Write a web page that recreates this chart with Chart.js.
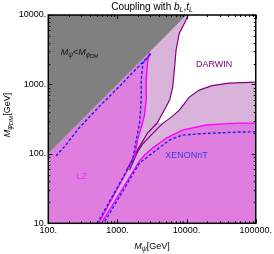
<!DOCTYPE html>
<html><head><meta charset="utf-8">
<script src="https://cdn.jsdelivr.net/npm/chart.js@4.4.1/dist/chart.umd.min.js"></script>
<style>html,body{margin:0;padding:0;background:#fff;}canvas{display:block;}</style>
</head><body>
<canvas id="c" width="274" height="254"></canvas>
<script>
// ---- tick values / labels ----
const xTicks = [100, 1000, 10000, 100000];
const xTickLabels = ['100.', '1000.', '10000.', '100000.'];
const yTicks = [10, 100, 1000, 10000];
const yTickLabels = ['10.', '100.', '1000.', '10000.'];

// ---- regions ([M_psi, M_phiDM] in GeV) ----
const lzRegion = [[100,10],[100000,10],[100000,10000],[10000,10000],[100,100]];
const kinematicRegion = [[100,100],[10000,10000],[100,10000]];

// ---- LZ boundary (two branches) ----
const lzLeft = [[2900,2900],[2720,2025],[2605,1153],[2605,594],[2462,362],[2305,278],[1953,158],[1768,90],[536,10]];
const lzRight = [[100000,277],[57300,277],[29500,268],[19200,260],[8670,220],[5105,169],[3210,121],[2462,96],[2086,79],[583,10]];

// ---- DARWIN reach (two branches) ----
const darwinUpper = [[10580,10000],[9800,8420],[7850,5470],[7040,3120],[6650,1610],[6300,915],[5700,600],[5053,476],[3751,278],[2720,199],[2018,121],[1356,58.5]];
const darwinLower = [[100000,1079],[41200,1044],[23400,961],[15200,828],[10940,657],[7852,427],[6025,338],[4516,275],[3242,197],[2305,138],[1920,103],[1498,58.5]];
const darwinTipUpper = 8;
const darwinTipLower = 7;

// ---- XENONnT boundary (two branches) ----
const xenonLeft = [[129,93],[174,129.5],[286,243],[554,487],[1076,945],[1768,1579],[3054,2774],[2328,2005],[2208,1153],[2208,594],[2086,278],[1871,158],[1655,81],[510,10]];
const xenonRight = [[100000,208],[57300,206],[19000,197],[8670,186],[5640,158],[3630,113],[2605,87],[2086,74],[633,10]];

// ---- text labels (data coordinates) ----
const labelDarwin = [25030, 1959];
const labelXenon = [9970, 96];
const labelLZ = [305, 49];
const labelKin = [151, 2640];

const FAM = "'Liberation Sans', Arial, sans-serif";
const pts = a => a.map(p => ({x: p[0], y: p[1]}));

const lightRegion = [...lzLeft, ...lzRight.slice().reverse(), [100000,10000], [10000,10000]];
const whiteRegion = [...darwinUpper.slice(0, darwinTipUpper + 1), ...darwinLower.slice(0, darwinTipLower + 1).reverse(), [100000,10000]];

function poly(data, color, order) {
  return {data: pts(data), showLine: true, fill: 'shape', backgroundColor: color,
          borderColor: 'rgba(0,0,0,0)', borderWidth: 0, pointRadius: 0, tension: 0, order};
}
function line(data, color, w, dash, order) {
  return {data: pts(data), showLine: true, fill: false, borderColor: color, borderWidth: w,
          borderDash: dash || [], pointRadius: 0, tension: 0, order};
}

function drawRich(ctx, parts, x, y, align) {
  let w = 0;
  for (const p of parts) { ctx.font = (p.i ? 'italic ' : '') + p.s + 'px ' + FAM; p.w = ctx.measureText(p.t).width; w += p.w; }
  let cx = align === 'center' ? x - w / 2 : x;
  ctx.textAlign = 'left';
  ctx.textBaseline = 'alphabetic';
  for (const p of parts) { ctx.font = (p.i ? 'italic ' : '') + p.s + 'px ' + FAM; ctx.fillText(p.t, cx, y + (p.dy || 0)); cx += p.w; }
}

const decorPlugin = {
  id: 'decor',
  afterDatasetsDraw(chart) {
    const {ctx, chartArea: a, scales: {x, y}} = chart;
    ctx.save();
    // in-plot labels
    ctx.fillStyle = '#800080';
    drawRich(ctx, [{t: 'DARWIN', s: 9}], x.getPixelForValue(labelDarwin[0]), y.getPixelForValue(labelDarwin[1]) + 3.2, 'center');
    ctx.fillStyle = '#3a3ae8';
    drawRich(ctx, [{t: 'XENONnT', s: 9}], x.getPixelForValue(labelXenon[0]), y.getPixelForValue(labelXenon[1]) + 3.2, 'center');
    ctx.fillStyle = '#ff22ff';
    drawRich(ctx, [{t: 'LZ', s: 9}], x.getPixelForValue(labelLZ[0]), y.getPixelForValue(labelLZ[1]) + 3.2, 'center');
    ctx.fillStyle = '#111';
    drawRich(ctx, [{t: 'M', s: 9, i: 1}, {t: 'ψ', s: 6.5, i: 1, dy: 2}, {t: '<', s: 9}, {t: 'M', s: 9, i: 1},
                   {t: 'φ', s: 6.5, i: 1, dy: 2}, {t: 'DM', s: 5.5, dy: 3}],
             x.getPixelForValue(labelKin[0]), y.getPixelForValue(labelKin[1]), 'left');
    // ticks (inward, all sides)
    ctx.strokeStyle = '#000';
    ctx.lineWidth = 1;
    ctx.beginPath();
    for (let d = 100; d <= 100000; d *= 10) {
      for (let m = 1; m <= 9; m++) {
        const v = d * m; if (v > 100000) break;
        const px = Math.round(x.getPixelForValue(v)) + 0.5;
        const L = m === 1 ? 4 : 2;
        ctx.moveTo(px, a.bottom); ctx.lineTo(px, a.bottom - L);
        ctx.moveTo(px, a.top); ctx.lineTo(px, a.top + L);
      }
    }
    for (let d = 10; d <= 10000; d *= 10) {
      for (let m = 1; m <= 9; m++) {
        const v = d * m; if (v > 10000) break;
        const py = Math.round(y.getPixelForValue(v)) + 0.5;
        const L = m === 1 ? 4 : 2;
        ctx.moveTo(a.left, py); ctx.lineTo(a.left + L, py);
        ctx.moveTo(a.right, py); ctx.lineTo(a.right - L, py);
      }
    }
    ctx.stroke();
    // frame
    ctx.lineWidth = 1.5;
    ctx.strokeRect(a.left, a.top, a.right - a.left, a.bottom - a.top);
    // title
    ctx.fillStyle = '#000';
    const cx = (a.left + a.right) / 2;
    drawRich(ctx, [{t: 'Coupling with ', s: 10}, {t: 'b', s: 10, i: 1}, {t: 'L', s: 7, i: 1, dy: 2.5},
                   {t: ',', s: 10}, {t: 't', s: 10, i: 1}, {t: 'L', s: 7, i: 1, dy: 2.5}], cx, 9.5, 'center');
    // x title
    drawRich(ctx, [{t: 'M', s: 9, i: 1}, {t: 'ψ', s: 7, i: 1, dy: 2}, {t: '[GeV]', s: 9}], cx, 248.5, 'center');
    // y title
    ctx.translate(9.8, 115);
    ctx.rotate(-Math.PI / 2);
    drawRich(ctx, [{t: 'M', s: 9, i: 1}, {t: 'φ', s: 7, i: 1, dy: 2}, {t: 'DM', s: 6, dy: 3}, {t: '[GeV]', s: 9}], 0, 0, 'center');
    ctx.restore();
  }
};

new Chart(document.getElementById('c'), {
  type: 'scatter',
  data: {
    datasets: [
      poly(lzRegion, '#e07ee0', 20),
      poly(kinematicRegion, '#808080', 19),
      poly(lightRegion, '#d9b3d9', 18),
      poly(whiteRegion, '#ffffff', 17),
      line(darwinUpper, '#800080', 1.2, null, 6),
      line(darwinLower, '#800080', 1.2, null, 6),
      line(lzLeft, '#ff00ff', 1.4, null, 5),
      line(lzRight, '#ff00ff', 1.4, null, 5),
      line(xenonLeft, '#1e1ef0', 1.4, [3, 2], 4),
      line(xenonRight, '#1e1ef0', 1.4, [3, 2], 4)
    ]
  },
  options: {
    responsive: false, animation: false, devicePixelRatio: 1,
    layout: {padding: {left: 0, right: 17.3, top: 15, bottom: 0}},
    plugins: {legend: {display: false}, tooltip: {enabled: false}},
    scales: {
      x: {
        type: 'logarithmic', min: 100, max: 100000, position: 'bottom',
        afterBuildTicks: s => { s.ticks = xTicks.map(v => ({value: v})); },
        afterFit: s => { s.height = 30.7; },
        grid: {display: false, drawTicks: false}, border: {display: false},
        ticks: {autoSkip: false, maxRotation: 0, minRotation: 0, padding: 2, color: '#000',
                font: {family: FAM, size: 9},
                callback: v => xTickLabels[xTicks.indexOf(v)] ?? ''}
      },
      y: {
        type: 'logarithmic', min: 10, max: 10000, position: 'left',
        afterBuildTicks: s => { s.ticks = yTicks.map(v => ({value: v})); },
        afterFit: s => { s.width = 48.3; },
        grid: {display: false, drawTicks: false}, border: {display: false},
        ticks: {autoSkip: false, padding: 2, color: '#000', font: {family: FAM, size: 9},
                callback: v => yTickLabels[yTicks.indexOf(v)] ?? ''}
      }
    }
  },
  plugins: [decorPlugin]
});
</script>
</body></html>
